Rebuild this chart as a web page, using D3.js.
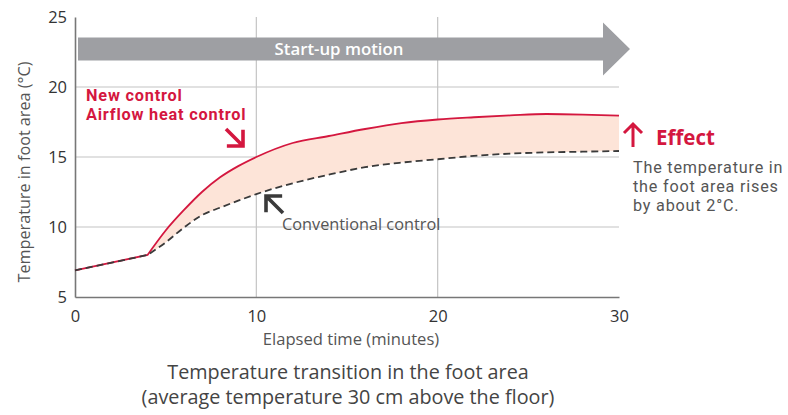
<!DOCTYPE html>
<html>
<head>
<meta charset="utf-8">
<script src="https://cdn.jsdelivr.net/npm/d3@7"></script>
<style>
  body { margin: 0; background: #fff; }
  svg { display: block; font-family: "Open Sans", "Noto Sans", sans-serif; }
</style>
</head>
<body>
<svg id="chart" width="788" height="415"></svg>
<script>
// Elapsed time (minutes) and foot-area temperature (°C)
const minutes = [0, 4, 5, 6, 7, 8, 9, 10, 12, 14, 16, 18, 20, 22, 24, 26, 28, 30];
const newControl = [6.9, 8.0, 9.75, 11.2, 12.5, 13.55, 14.35, 15.0, 16.0, 16.5, 17.0, 17.42, 17.68, 17.84, 17.97, 18.07, 18.03, 17.95];
const conventional = [6.9, 8.0, 8.9, 9.95, 10.85, 11.38, 11.88, 12.35, 13.12, 13.74, 14.27, 14.6, 14.84, 15.08, 15.24, 15.33, 15.38, 15.43];
const xTicks = [0, 10, 20, 30];
const yTicks = [5, 10, 15, 20, 25];

const FONT = "'Open Sans', 'Noto Sans', sans-serif";
const TIGHT = "Roboto, 'Open Sans', sans-serif";
const svg = d3.select("#chart");
const x = d3.scaleLinear().domain([0, 30]).range([75, 619]);
const y = d3.scaleLinear().domain([5, 25]).range([297, 17]);

const RED = "#d4173f";
const GREY_TXT = "#555";

// gridlines
svg.append("g").selectAll("line").data([10, 15, 20]).join("line")
  .attr("x1", x(0)).attr("x2", x(30))
  .attr("y1", d => y(d)).attr("y2", d => y(d))
  .attr("stroke", "#c4c4c4").attr("stroke-width", 1.2);
svg.append("g").selectAll("line").data([10, 20]).join("line")
  .attr("x1", d => x(d)).attr("x2", d => x(d))
  .attr("y1", y(25)).attr("y2", y(5))
  .attr("stroke", "#c4c4c4").attr("stroke-width", 1.2);

// axes
const xAxis = svg.append("g").attr("transform", `translate(0,${y(5)})`)
  .call(d3.axisBottom(x).tickValues(xTicks).tickSize(0).tickPadding(13));
const yAxis = svg.append("g").attr("transform", `translate(${x(0)},0)`)
  .call(d3.axisLeft(y).tickValues(yTicks).tickSize(0).tickPadding(8));
[xAxis, yAxis].forEach(g => {
  g.select(".domain").attr("stroke", "#777").attr("stroke-width", 1.6);
  g.selectAll("text").attr("fill", "#333").style("font-size", "16.5px")
    .style("font-family", FONT);
});
xAxis.selectAll("text").attr("dy", "0.71em");

// start-up motion banner
const bTop = 37.5, bBot = 60.5, hTop = 22.5, hBot = 75.5, bL = 78, hBase = 603, tip = 630;
svg.append("path")
  .attr("d", `M${bL},${bTop}H${hBase}V${hTop}L${tip},${(hTop + hBot) / 2}L${hBase},${hBot}V${bBot}H${bL}Z`)
  .attr("fill", "#9e9fa3");
svg.append("text").attr("x", 339).attr("y", 54.5).attr("text-anchor", "middle")
  .attr("fill", "#fff").style("font-size", "16.8px").style("font-weight", 600)
  .text("Start-up motion");

// band between the two curves: straight run up to 4 min, smooth afterwards
const rows = minutes.map((m, i) => ({ m, a: newControl[i], b: conventional[i] }));
const head = rows[0], tail = rows.slice(1);
const curve = d3.curveMonotoneX;
const lineA = d3.line().x(d => x(d.m)).y(d => y(d.a)).curve(curve);
const lineB = d3.line().x(d => x(d.m)).y(d => y(d.b)).curve(curve);
const pathA = `M${x(head.m)},${y(head.a)}L` + lineA(tail).slice(1);
const pathB = `M${x(head.m)},${y(head.b)}L` + lineB(tail).slice(1);
const tailRev = tail.slice().reverse();
const bandPath = lineA(tail) + "L" + lineB(tailRev).slice(1) + "Z";

svg.append("path").attr("d", bandPath).attr("fill", "#fde4d8");
svg.append("path").attr("d", pathA)
  .attr("fill", "none").attr("stroke", RED).attr("stroke-width", 1.8);
svg.append("path").attr("d", pathB)
  .attr("fill", "none").attr("stroke", "#3a3a3a").attr("stroke-width", 1.8)
  .attr("stroke-dasharray", "7,4");

// multi-line text block built from tspans
function block(xp, yp, lines, step, style) {
  const t = svg.append("text").attr("x", xp).attr("y", yp);
  Object.entries(style).forEach(([k, v]) => t.style(k, v));
  lines.forEach((s, i) => {
    t.append("tspan").attr("x", xp).attr("dy", i === 0 ? 0 : step).text(s);
  });
  return t;
}

// annotations
block(86, 101, ["New control", "Airflow heat control"], 19.2,
  { "font-family": TIGHT, "font-size": "16.3px", "font-weight": 700, "letter-spacing": "0.8px", fill: RED });

function cornerArrow(cx, cy, sx, sy, len, color) {
  // arrow with its head corner at (cx, cy); sx/sy give the direction it points to
  svg.append("path")
    .attr("d", `M${cx - sx * len},${cy - sy * len}L${cx},${cy}M${cx - sx * len * 0.95},${cy}H${cx}V${cy - sy * len * 0.95}`)
    .attr("fill", "none").attr("stroke", color).attr("stroke-width", 3.6)
    .attr("stroke-linejoin", "miter").attr("stroke-linecap", "butt");
}
cornerArrow(243, 146, 1, 1, 17, RED);
cornerArrow(266, 196, -1, -1, 17, "#3a3a3a");

svg.append("text").attr("x", 282).attr("y", 230).attr("fill", GREY_TXT)
  .style("font-size", "16.3px").text("Conventional control");

// effect note
svg.append("path").attr("d", "M633,147V125M624,133L633,124L642,133")
  .attr("fill", "none").attr("stroke", RED).attr("stroke-width", 3);
svg.append("text").attr("x", 656).attr("y", 145).attr("fill", RED)
  .style("font-size", "20.5px").style("font-weight", 700).text("Effect");
block(633, 173, ["The temperature in", "the foot area rises", "by about 2°C."], 19,
  { "font-family": TIGHT, "font-size": "16.2px", "letter-spacing": "0.8px", fill: GREY_TXT });

// axis titles
svg.append("text").attr("transform", "translate(30,172) rotate(-90)")
  .attr("text-anchor", "middle").attr("fill", GREY_TXT).style("font-size", "16.2px")
  .text("Temperature in foot area (°C)");
svg.append("text").attr("x", 351).attr("y", 345).attr("text-anchor", "middle")
  .attr("fill", GREY_TXT).style("font-size", "16.6px").text("Elapsed time (minutes)");

// caption
const cap = block(348, 379, ["Temperature transition in the foot area", "(average temperature 30 cm above the floor)"], 25,
  { "font-size": "19.8px", fill: "#444" });
cap.attr("text-anchor", "middle");
</script>
</body>
</html>
